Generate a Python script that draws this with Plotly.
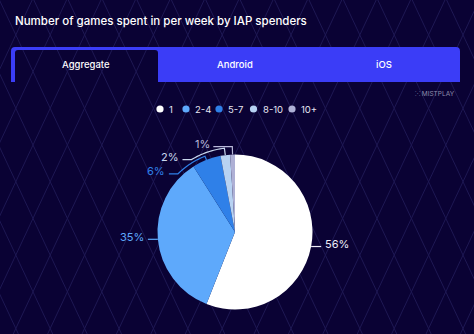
import math
import plotly.graph_objects as go

# ---------------- data ----------------
title_text = "Number of games spent in per week by IAP spenders"
tabs = ["Aggregate", "Android", "iOS"]
categories = ["1", "2-4", "5-7", "8-10", "10+"]
shares = [56, 35, 6, 2, 1]

# ---------------- style ----------------
slice_colors = ["#ffffff", "#5ea9fb", "#2f80e8", "#b7d2f2", "#aeb0d5"]
label_colors = ["#eeeef8", "#5ea9fb", "#2f80e8", "#c9d8ee", "#b9b9d9"]
W, H = 474, 334
BG = "#0a0234"
LATTICE = "#1e1853"
BLUE = "#3b3df7"
FONT = "Inter"

# pie geometry (pixels)
CX, CY, R = 235.0, 232.0, 77.5
# leader style per slice: (radial offset, arc end angle or None, horizontal length)
leader_style = [(0, None, 10), (0, None, -10), (4, 315.5, -9), (7, 329.0, -9), (8, None, -19)]
legend_x = [160, 186, 219, 253.5, 292]
legend_y = 109
tab_x = [86, 235, 384]


def px(x):
    return x / W


def py(y):
    return 1 - y / H


def P(x, y):
    return f"{px(x):.5f},{py(y):.5f}"


fig = go.Figure()

fig.add_trace(go.Pie(
    labels=categories,
    values=shares,
    sort=False,
    direction="clockwise",
    rotation=0,
    marker=dict(colors=slice_colors, line=dict(width=0)),
    textinfo="none",
    hoverinfo="label+percent",
    showlegend=False,
    domain=dict(x=[px(CX - R), px(CX + R)], y=[py(CY + R), py(CY - R)]),
))

shapes = []
annotations = []

# background lattice
s = 17.2 / 36.7
step = 34.4
segs = []
for k in range(-8, 20):
    x0 = 33 + step * k
    for sign in (1, -1):
        ya, yb = -10, H + 10
        xa = x0 + sign * (ya - 145) * s
        xb = x0 + sign * (yb - 145) * s
        segs.append(f"M{P(xa, ya)} L{P(xb, yb)}")
shapes.append(dict(type="path", xref="paper", yref="paper", path=" ".join(segs),
                   line=dict(color=LATTICE, width=1), layer="below"))

# tab bar (blue with the active tab cut out)
tab_path = (f"M{P(11, 82)} L{P(11, 51)} Q{P(11, 47)} {P(15, 47)} L{P(456, 47)} "
            f"Q{P(460, 47)} {P(460, 51)} L{P(460, 82)} L{P(158, 82)} L{P(158, 53)} "
            f"Q{P(158, 50)} {P(155, 50)} L{P(18, 50)} Q{P(15, 50)} {P(15, 53)} L{P(15, 82)} Z")
shapes.append(dict(type="path", xref="paper", yref="paper", path=tab_path,
                   fillcolor=BLUE, line=dict(width=0), layer="below"))

for t, x in zip(tabs, tab_x):
    annotations.append(dict(text=t, x=px(x), y=py(64.5), xref="paper", yref="paper",
                            showarrow=False, xanchor="center", yanchor="middle",
                            font=dict(family=FONT, size=9.5, color="#ffffff", weight=500)))

# title
annotations.append(dict(text=title_text, x=px(13), y=py(21.5), xref="paper", yref="paper",
                        showarrow=False, xanchor="left", yanchor="middle",
                        font=dict(family=FONT, size=11.5, color="#ffffff", weight=500)))

# watermark
annotations.append(dict(text="⁙ MISTPLAY", x=px(457), y=py(94), xref="paper", yref="paper",
                        showarrow=False, xanchor="right", yanchor="middle",
                        font=dict(family=FONT, size=6.5, color="#8f8cab")))

# legend
for cat, col, lx in zip(categories, slice_colors, legend_x):
    rr = 3.6
    shapes.append(dict(type="circle", xref="paper", yref="paper",
                       x0=px(lx - rr), x1=px(lx + rr), y0=py(legend_y + rr), y1=py(legend_y - rr),
                       fillcolor=col, line=dict(width=0)))
    annotations.append(dict(text=cat, x=px(lx + 7), y=py(legend_y), xref="paper", yref="paper",
                            showarrow=False, xanchor="left", yanchor="middle",
                            font=dict(family=FONT, size=9.5, color="#e6e6f2")))

# leader lines + percentage labels
tot = sum(shares)
cum = 0
for v, col, (d, end_ang, hlen) in zip(shares, label_colors, leader_style):
    mid = (cum + v / 2) / tot * 360
    cum += v
    a = math.radians(mid)
    pts = [(CX + R * math.sin(a), CY - R * math.cos(a))]
    rr = R + d
    if d:
        pts.append((CX + rr * math.sin(a), CY - rr * math.cos(a)))
    if end_ang is not None:
        n = 16
        for i in range(1, n + 1):
            ang = math.radians(mid + (end_ang - mid) * i / n)
            pts.append((CX + rr * math.sin(ang), CY - rr * math.cos(ang)))
    ex, ey = pts[-1]
    pts.append((ex + hlen, ey))
    path = "M" + " L".join(P(x, y) for x, y in pts)
    shapes.append(dict(type="path", xref="paper", yref="paper", path=path,
                       line=dict(color=col, width=1.2)))
    tx = ex + hlen + (1.5 if hlen > 0 else -1.5)
    annotations.append(dict(text=f"{v}%", x=px(tx), y=py(ey - 2.5), xref="paper", yref="paper",
                            showarrow=False, xanchor="left" if hlen > 0 else "right",
                            yanchor="middle",
                            font=dict(family=FONT, size=11, color=col)))

fig.update_layout(
    width=W, height=H, autosize=False,
    margin=dict(l=0, r=0, t=0, b=0),
    paper_bgcolor=BG, plot_bgcolor=BG,
    shapes=shapes, annotations=annotations,
    showlegend=False,
)

fig.write_html("out.html")
